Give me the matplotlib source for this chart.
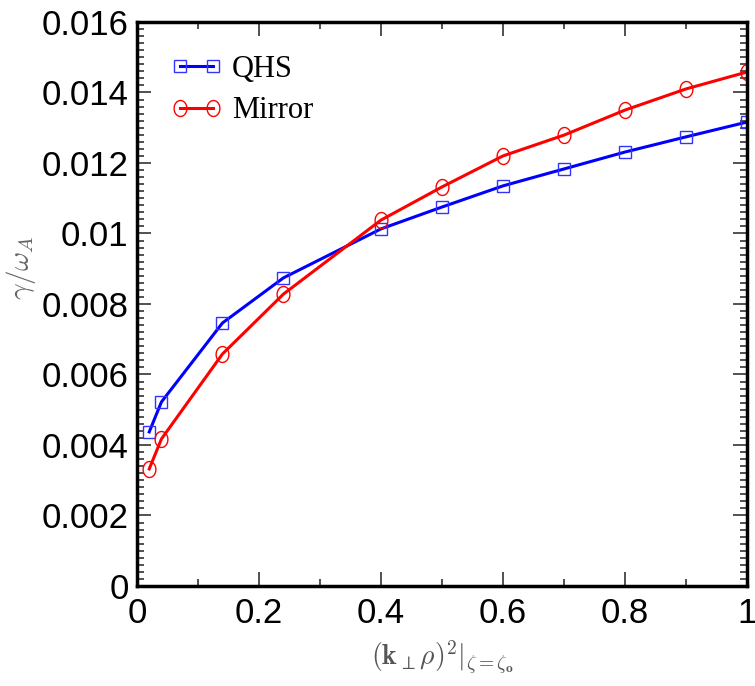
import numpy as np
import matplotlib
matplotlib.use("Agg")
import matplotlib.pyplot as plt
from matplotlib.path import Path
from matplotlib.ticker import MultipleLocator

plt.rcParams['mathtext.fontset'] = 'cm'

k2 = [0.02, 0.04, 0.14, 0.24, 0.4, 0.5, 0.6, 0.7, 0.8, 0.9, 1.0]
qhs = [0.00437, 0.00522, 0.00746, 0.00874, 0.01013, 0.01075, 0.01135, 0.01183, 0.01231, 0.01274, 0.01316]
mirror = [0.00332, 0.00417, 0.00658, 0.00828, 0.01038, 0.01132, 0.0122, 0.01279, 0.0135, 0.0141, 0.01458]
yticks = [0, 0.002, 0.004, 0.006, 0.008, 0.01, 0.012, 0.014, 0.016]
ytick_labels = ['0', '0.002', '0.004', '0.006', '0.008', '0.01', '0.012', '0.014', '0.016']
xticks = [0, 0.2, 0.4, 0.6, 0.8, 1.0]
xtick_labels = ['0', '0.2', '0.4', '0.6', '0.8', '1']

t = np.linspace(0, 2*np.pi, 60)
ellipse = Path(np.column_stack([0.8*np.cos(t), np.sin(t)]), closed=True)

fig = plt.figure(figsize=(7.55, 6.86), dpi=100)
ax = fig.add_axes([0.1815, 0.1458, 0.8079, 0.8222])

ax.plot(k2, qhs, color='#0000ff', lw=2.2, marker='s', ms=8.5, mfc='none',
        mec='#3333ff', mew=1.0, label='QHS')
ax.plot(k2, mirror, color='#ff0000', lw=2.2, marker=ellipse, ms=11.5, mfc='none',
        mec='#ff0000', mew=1.0, label='Mirror')

ax.set_xlim(0, 1)
ax.set_ylim(0, 0.016)
ax.set_xticks(xticks)
ax.set_xticklabels(xtick_labels)
ax.set_yticks(yticks)
ax.set_yticklabels(ytick_labels)
ax.xaxis.set_minor_locator(MultipleLocator(0.1))
ax.yaxis.set_minor_locator(MultipleLocator(0.0002))

for lab in ax.get_xticklabels() + ax.get_yticklabels():
    lab.set_fontfamily('Liberation Sans')
    lab.set_fontsize(25)

ax.tick_params(which='both', direction='in', top=True, right=True, color='#333333')
ax.tick_params(which='major', length=10, width=1.2, pad=6)
ax.tick_params(which='minor', length=5, width=1.2)
ax.tick_params(axis='x', which='major', pad=8)

for s in ax.spines.values():
    s.set_linewidth(2.5)

ax.set_xlabel(r'$(\mathbf{k}_\perp\rho)^\mathbf{2}|_{\zeta=\zeta_\mathbf{o}}$', fontsize=20,
              color='#555555', labelpad=6)
ax.set_ylabel(r'$\gamma/\omega_A$', fontsize=21, color='#666666')
ax.yaxis.set_label_coords(-0.163, 0.565)

leg = ax.legend(loc='upper left', bbox_to_anchor=(0.01, 0.99), frameon=False,
                prop={'family': 'Liberation Serif', 'size': 22}, numpoints=2,
                handlelength=1.7, handletextpad=0.3, labelspacing=0.4)

fig.savefig('out.png', dpi=100)
